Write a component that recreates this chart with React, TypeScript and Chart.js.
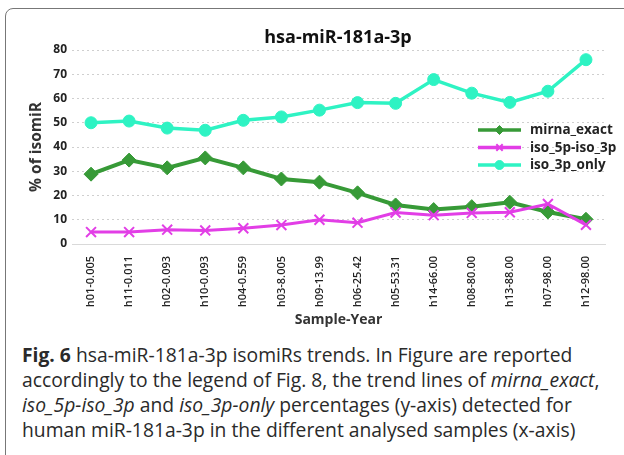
import React, { useEffect, useRef } from 'react';
import { Chart, registerables } from 'chart.js';
import { drawPoint } from 'chart.js/helpers';

Chart.register(...registerables);

const samples = ['h01-0.005', 'h11-0.011', 'h02-0.093', 'h10-0.093', 'h04-0.559', 'h03-8.005', 'h09-13.99', 'h06-25.42', 'h05-53.31', 'h14-66.00', 'h08-80.00', 'h13-88.00', 'h07-98.00', 'h12-98.00'];
const mirnaExact = [28.8, 34.6, 31.4, 35.5, 31.4, 26.8, 25.5, 21.1, 16.1, 14.2, 15.4, 17.2, 13.2, 10.2];
const iso5pIso3p = [4.9, 4.9, 5.9, 5.6, 6.5, 7.8, 10.0, 8.8, 13.0, 11.9, 12.8, 13.1, 16.5, 7.9];
const iso3pOnly = [50.0, 50.7, 47.8, 46.9, 51.0, 52.4, 55.2, 58.3, 58.0, 67.8, 62.2, 58.4, 63.0, 76.0];
const seriesNames = ['mirna_exact', 'iso_5p-iso_3p', 'iso_3p_only'];
const yMin = 0;
const yMax = 80;
const yStep = 10;

const GREEN = '#379a37';
const MAGENTA = '#e23ee6';
const CYAN = '#2ef3c3';

const legendPlugin = {
  id: 'insideLegend',
  afterDraw(chart: any) {
    const ctx = chart.ctx;
    const x0 = 478;
    const x1 = 521;
    chart.data.datasets.forEach((ds: any, i: number) => {
      const y = 130 + i * 17.5;
      ctx.save();
      ctx.strokeStyle = ds.borderColor;
      ctx.lineWidth = 3.5;
      ctx.beginPath();
      ctx.moveTo(x0, y);
      ctx.lineTo(x1, y);
      ctx.stroke();
      ctx.fillStyle = ds.pointBackgroundColor;
      ctx.strokeStyle = ds.pointBorderColor;
      ctx.lineWidth = ds.pointBorderWidth;
      drawPoint(ctx, { pointStyle: ds.pointStyle, radius: 4.5, borderWidth: ds.pointBorderWidth, rotation: 0 }, (x0 + x1) / 2, y);
      ctx.fillStyle = '#222';
      ctx.font = 'bold 13.5px "Open Sans"';
      ctx.textBaseline = 'middle';
      ctx.textAlign = 'left';
      ctx.fillText(ds.label, 530, y + 0.5);
      ctx.restore();
    });
  },
};

function ChartBox() {
  const ref = useRef<HTMLCanvasElement | null>(null);
  useEffect(() => {
    if (!ref.current) return;
    const chart = new Chart(ref.current, {
      type: 'line',
      data: {
        labels: samples,
        datasets: [
          {
            label: seriesNames[0],
            data: mirnaExact,
            borderColor: GREEN,
            backgroundColor: GREEN,
            pointBackgroundColor: GREEN,
            pointBorderColor: GREEN,
            pointBorderWidth: 1,
            pointStyle: 'rectRot',
            pointRadius: 7,
            borderWidth: 4,
            tension: 0,
            order: 1,
          },
          {
            label: seriesNames[1],
            data: iso5pIso3p,
            borderColor: MAGENTA,
            backgroundColor: MAGENTA,
            pointBackgroundColor: MAGENTA,
            pointBorderColor: MAGENTA,
            pointBorderWidth: 2,
            pointStyle: 'crossRot',
            pointRadius: 7,
            borderWidth: 3,
            tension: 0,
            order: 0,
          },
          {
            label: seriesNames[2],
            data: iso3pOnly,
            borderColor: CYAN,
            backgroundColor: CYAN,
            pointBackgroundColor: CYAN,
            pointBorderColor: CYAN,
            pointBorderWidth: 1,
            pointStyle: 'circle',
            pointRadius: 6,
            borderWidth: 3.5,
            tension: 0,
            order: 2,
          },
        ],
      },
      options: {
        animation: false,
        responsive: false,
        devicePixelRatio: 1,
        layout: { padding: { left: 24, right: 19, top: 50, bottom: 0 } },
        plugins: {
          legend: { display: false },
          title: { display: false },
          tooltip: { enabled: false },
        },
        scales: {
          x: {
            offset: true,
            grid: { display: false },
            border: { display: true, color: '#d9d9d9', width: 1 },
            ticks: {
              minRotation: 90,
              maxRotation: 90,
              padding: 4,
              color: '#222',
              font: { family: 'Open Sans', size: 11, weight: 600 },
            },
            title: {
              display: true,
              text: 'Sample-Year',
              color: '#333',
              font: { family: 'Open Sans', size: 14, weight: 'bold' },
              padding: { top: 4, bottom: 4 },
            },
            afterFit: (scale: any) => { scale.height = 88; },
          },
          y: {
            min: yMin,
            max: yMax,
            grid: { color: '#cfcfcf', drawTicks: false, lineWidth: 1 },
            border: { display: false, dash: [2, 3] },
            ticks: {
              stepSize: yStep,
              padding: 5,
              color: '#222',
              font: { family: 'Open Sans', size: 12, weight: 'bold' },
            },
            title: {
              display: true,
              text: '% of isomiR',
              color: '#333',
              font: { family: 'Open Sans', size: 15.5, weight: 'bold' },
              padding: { top: 3, bottom: 4 },
            },
            afterFit: (scale: any) => { scale.width = 48; },
          },
        },
      },
      plugins: [legendPlugin],
    });
    return () => chart.destroy();
  }, []);
  return <canvas ref={ref} width={624} height={332} style={{ position: 'absolute', left: 0, top: 0, width: 624, height: 332 }} />;
}

export default function App() {
  return (
    <div style={{ position: 'fixed', left: 0, top: 0, width: 624, height: 455, overflow: 'hidden', background: '#fff', fontFamily: '"Open Sans", sans-serif' }}>
      <div style={{ position: 'absolute', left: 5, top: 8, width: 700, height: 600, border: '1.5px solid #777', borderRadius: 8, boxSizing: 'border-box' }} />
      <ChartBox />
      <div style={{ position: 'absolute', left: 238, top: 24, width: 200, textAlign: 'center', fontSize: 18, lineHeight: '24px', fontWeight: 'bold', color: '#111' }}>hsa-miR-181a-3p</div>
      <div style={{ position: 'absolute', left: 22, top: 342, width: 620, fontSize: 19.3, lineHeight: '25px', color: '#2a2a2a', whiteSpace: 'nowrap' }}>
        <b>Fig. 6</b> hsa-miR-181a-3p isomiRs trends. In Figure are reported<br />
        accordingly to the legend of Fig. 8, the trend lines of <i>mirna_exact</i>,<br />
        <i>iso_5p-iso_3p</i> and <i>iso_3p-only</i> percentages (y-axis) detected for<br />
        human miR-181a-3p in the different analysed samples (x-axis)
      </div>
    </div>
  );
}
